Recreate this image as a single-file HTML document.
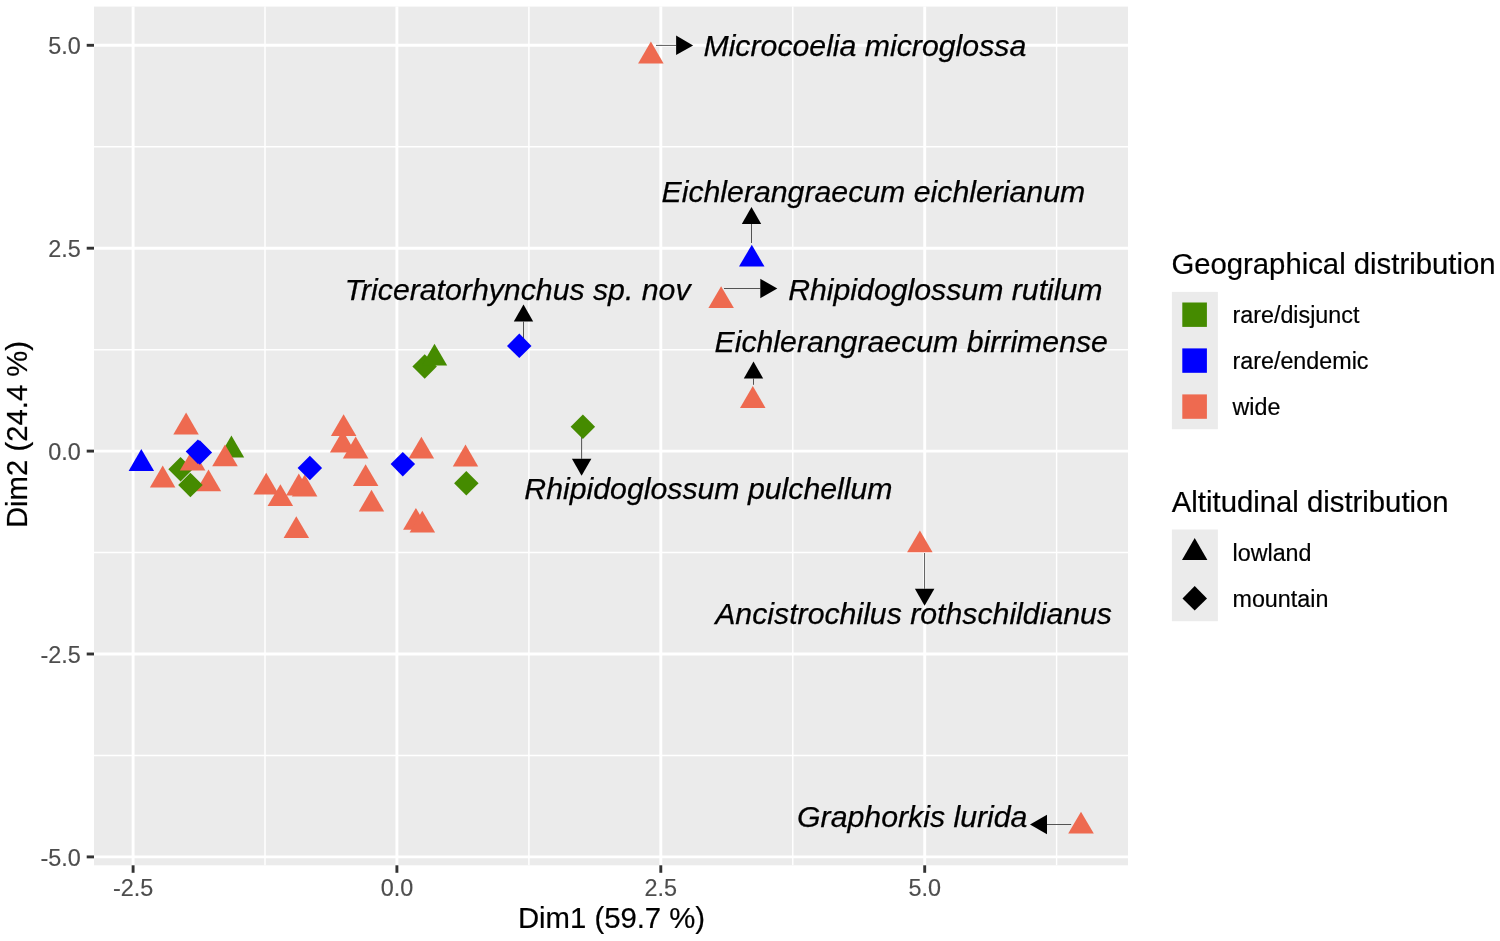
<!DOCTYPE html>
<html lang="en"><head><meta charset="utf-8"><title>PCA biplot</title>
<style>
html,body{margin:0;padding:0;background:#fff;}
body{width:1500px;height:941px;overflow:hidden;}
svg{display:block;}
text{font-family:"Liberation Sans",sans-serif;}
.lab{font-size:30.25px;font-style:italic;fill:#000;stroke:#000;stroke-width:0.25px;}
.tk{font-size:23.4px;fill:#4D4D4D;stroke:#4D4D4D;stroke-width:0.15px;}
.ti{font-size:29.3px;fill:#000;stroke:#000;stroke-width:0.2px;}
.lg{font-size:23.3px;fill:#000;stroke:#000;stroke-width:0.2px;}
</style></head><body>
<svg width="1500" height="941" viewBox="0 0 1500 941">
<rect width="1500" height="941" fill="#fff"/>
<rect x="94.0" y="6.6" width="1034.0" height="858.6999999999999" fill="#EBEBEB"/>
<line x1="265.0" x2="265.0" y1="6.6" y2="865.3" stroke="#fff" stroke-width="1.45"/>
<line x1="528.9" x2="528.9" y1="6.6" y2="865.3" stroke="#fff" stroke-width="1.45"/>
<line x1="792.8" x2="792.8" y1="6.6" y2="865.3" stroke="#fff" stroke-width="1.45"/>
<line x1="1056.6" x2="1056.6" y1="6.6" y2="865.3" stroke="#fff" stroke-width="1.45"/>
<line x1="94.0" x2="1128.0" y1="755.5" y2="755.5" stroke="#fff" stroke-width="1.45"/>
<line x1="94.0" x2="1128.0" y1="552.5" y2="552.5" stroke="#fff" stroke-width="1.45"/>
<line x1="94.0" x2="1128.0" y1="349.7" y2="349.7" stroke="#fff" stroke-width="1.45"/>
<line x1="94.0" x2="1128.0" y1="146.8" y2="146.8" stroke="#fff" stroke-width="1.45"/>
<line x1="133.1" x2="133.1" y1="6.6" y2="865.3" stroke="#fff" stroke-width="2.9"/>
<line x1="133.1" x2="133.1" y1="865.3" y2="872.8" stroke="#333" stroke-width="2.9"/>
<line x1="396.9" x2="396.9" y1="6.6" y2="865.3" stroke="#fff" stroke-width="2.9"/>
<line x1="396.9" x2="396.9" y1="865.3" y2="872.8" stroke="#333" stroke-width="2.9"/>
<line x1="660.8" x2="660.8" y1="6.6" y2="865.3" stroke="#fff" stroke-width="2.9"/>
<line x1="660.8" x2="660.8" y1="865.3" y2="872.8" stroke="#333" stroke-width="2.9"/>
<line x1="924.7" x2="924.7" y1="6.6" y2="865.3" stroke="#fff" stroke-width="2.9"/>
<line x1="924.7" x2="924.7" y1="865.3" y2="872.8" stroke="#333" stroke-width="2.9"/>
<line x1="94.0" x2="1128.0" y1="856.9" y2="856.9" stroke="#fff" stroke-width="2.9"/>
<line x1="86.7" x2="94.0" y1="856.9" y2="856.9" stroke="#333" stroke-width="2.9"/>
<line x1="94.0" x2="1128.0" y1="654.0" y2="654.0" stroke="#fff" stroke-width="2.9"/>
<line x1="86.7" x2="94.0" y1="654.0" y2="654.0" stroke="#333" stroke-width="2.9"/>
<line x1="94.0" x2="1128.0" y1="451.1" y2="451.1" stroke="#fff" stroke-width="2.9"/>
<line x1="86.7" x2="94.0" y1="451.1" y2="451.1" stroke="#333" stroke-width="2.9"/>
<line x1="94.0" x2="1128.0" y1="248.2" y2="248.2" stroke="#fff" stroke-width="2.9"/>
<line x1="86.7" x2="94.0" y1="248.2" y2="248.2" stroke="#333" stroke-width="2.9"/>
<line x1="94.0" x2="1128.0" y1="45.3" y2="45.3" stroke="#fff" stroke-width="2.9"/>
<line x1="86.7" x2="94.0" y1="45.3" y2="45.3" stroke="#333" stroke-width="2.9"/>
<line x1="656.0" y1="45.4" x2="676.1" y2="45.4" stroke="#383838" stroke-width="0.85"/><polygon points="676.1,35.6 693.1,45.4 676.1,55.1" fill="#000"/>
<line x1="751.5" y1="243.0" x2="751.5" y2="224.0" stroke="#383838" stroke-width="0.85"/><polygon points="741.8,224.0 751.5,207.0 761.2,224.0" fill="#000"/>
<line x1="724.0" y1="288.5" x2="760.3" y2="288.5" stroke="#383838" stroke-width="0.85"/><polygon points="760.3,278.8 777.3,288.5 760.3,298.2" fill="#000"/>
<line x1="523.5" y1="340.0" x2="523.5" y2="321.6" stroke="#383838" stroke-width="0.85"/><polygon points="513.8,321.6 523.5,304.6 533.2,321.6" fill="#000"/>
<line x1="753.5" y1="384.8" x2="753.5" y2="378.6" stroke="#383838" stroke-width="0.85"/><polygon points="743.8,378.6 753.5,361.6 763.2,378.6" fill="#000"/>
<line x1="581.6" y1="436.0" x2="581.6" y2="458.8" stroke="#383838" stroke-width="0.85"/><polygon points="571.9,458.8 581.6,475.8 591.4,458.8" fill="#000"/>
<line x1="924.6" y1="553.0" x2="924.6" y2="588.8" stroke="#383838" stroke-width="0.85"/><polygon points="914.9,588.8 924.6,605.8 934.4,588.8" fill="#000"/>
<line x1="1071.2" y1="824.5" x2="1047.0" y2="824.5" stroke="#383838" stroke-width="0.85"/><polygon points="1047.0,814.7 1030.0,824.5 1047.0,834.2" fill="#000"/>
<polygon points="180.6,457.1 192.8,469.3 180.6,481.6 168.3,469.3" fill="#458B00"/>
<polygon points="231.4,435.6 218.7,457.4 244.2,457.4" fill="#458B00"/>
<polygon points="186.1,412.6 173.3,434.4 198.8,434.4" fill="#EE6A50"/>
<polygon points="162.7,465.5 149.9,487.4 175.4,487.4" fill="#EE6A50"/>
<polygon points="192.7,448.8 179.9,470.6 205.4,470.6" fill="#EE6A50"/>
<polygon points="208.5,469.4 195.8,491.2 221.2,491.2" fill="#EE6A50"/>
<polygon points="225.0,444.4 212.2,466.2 237.8,466.2" fill="#EE6A50"/>
<polygon points="266.2,472.7 253.4,494.6 278.9,494.6" fill="#EE6A50"/>
<polygon points="280.4,484.2 267.6,506.1 293.1,506.1" fill="#EE6A50"/>
<polygon points="298.8,473.5 286.1,495.4 311.6,495.4" fill="#EE6A50"/>
<polygon points="304.7,474.5 291.9,496.4 317.4,496.4" fill="#EE6A50"/>
<polygon points="296.3,516.2 283.6,538.0 309.1,538.0" fill="#EE6A50"/>
<polygon points="342.7,430.5 329.9,452.4 355.4,452.4" fill="#EE6A50"/>
<polygon points="343.6,414.3 330.9,436.1 356.4,436.1" fill="#EE6A50"/>
<polygon points="355.7,436.5 342.9,458.4 368.4,458.4" fill="#EE6A50"/>
<polygon points="365.6,464.2 352.9,486.1 378.4,486.1" fill="#EE6A50"/>
<polygon points="371.5,489.8 358.8,511.6 384.2,511.6" fill="#EE6A50"/>
<polygon points="421.4,436.7 408.6,458.6 434.1,458.6" fill="#EE6A50"/>
<polygon points="465.5,444.5 452.8,466.4 478.2,466.4" fill="#EE6A50"/>
<polygon points="415.9,507.9 403.1,529.8 428.6,529.8" fill="#EE6A50"/>
<polygon points="422.3,510.8 409.6,532.6 435.1,532.6" fill="#EE6A50"/>
<polygon points="650.9,41.5 638.1,63.4 663.6,63.4" fill="#EE6A50"/>
<polygon points="721.1,286.3 708.4,308.1 733.9,308.1" fill="#EE6A50"/>
<polygon points="752.8,386.0 740.0,407.9 765.5,407.9" fill="#EE6A50"/>
<polygon points="919.9,530.4 907.1,552.2 932.6,552.2" fill="#EE6A50"/>
<polygon points="1081.0,811.7 1068.2,833.5 1093.8,833.5" fill="#EE6A50"/>
<polygon points="190.4,472.8 202.7,485.0 190.4,497.2 178.2,485.0" fill="#458B00"/>
<polygon points="424.7,354.2 436.9,366.5 424.7,378.8 412.4,366.5" fill="#458B00"/>
<polygon points="434.5,343.7 421.8,365.6 447.2,365.6" fill="#458B00"/>
<polygon points="466.3,470.9 478.6,483.2 466.3,495.4 454.1,483.2" fill="#458B00"/>
<polygon points="582.9,414.4 595.1,426.7 582.9,438.9 570.6,426.7" fill="#458B00"/>
<polygon points="141.3,449.0 128.6,470.9 154.1,470.9" fill="#0000FF"/>
<polygon points="197.9,439.4 210.2,451.6 197.9,463.9 185.7,451.6" fill="#0000FF"/>
<polygon points="199.8,440.2 212.1,452.5 199.8,464.8 187.6,452.5" fill="#0000FF"/>
<polygon points="309.9,455.8 322.1,468.0 309.9,480.2 297.6,468.0" fill="#0000FF"/>
<polygon points="402.8,451.9 415.1,464.1 402.8,476.4 390.6,464.1" fill="#0000FF"/>
<polygon points="519.3,333.6 531.5,345.9 519.3,358.1 507.0,345.9" fill="#0000FF"/>
<polygon points="751.8,244.7 739.0,266.6 764.5,266.6" fill="#0000FF"/>
<text x="703.45" y="56.2" class="lab">Microcoelia microglossa</text>
<text x="661.5" y="202.2" class="lab">Eichlerangraecum eichlerianum</text>
<text x="344.75" y="299.8" class="lab">Triceratorhynchus sp. nov</text>
<text x="788.15" y="299.6" class="lab">Rhipidoglossum rutilum</text>
<text x="714.5" y="352.2" class="lab">Eichlerangraecum birrimense</text>
<text x="524.35" y="499.2" class="lab">Rhipidoglossum pulchellum</text>
<text x="715.2" y="624.3" class="lab">Ancistrochilus rothschildianus</text>
<text x="797.1" y="827.4" class="lab">Graphorkis lurida</text>
<text x="133.1" y="895.8" class="tk" text-anchor="middle">-2.5</text>
<text x="396.9" y="895.8" class="tk" text-anchor="middle">0.0</text>
<text x="660.8" y="895.8" class="tk" text-anchor="middle">2.5</text>
<text x="924.7" y="895.8" class="tk" text-anchor="middle">5.0</text>
<text x="80.8" y="865.6" class="tk" text-anchor="end">-5.0</text>
<text x="80.8" y="662.8" class="tk" text-anchor="end">-2.5</text>
<text x="80.8" y="459.9" class="tk" text-anchor="end">0.0</text>
<text x="80.8" y="257.0" class="tk" text-anchor="end">2.5</text>
<text x="80.8" y="54.1" class="tk" text-anchor="end">5.0</text>
<text x="611.5" y="928.4" class="ti" text-anchor="middle">Dim1 (59.7 %)</text>
<text transform="translate(27.3,434.5) rotate(-90)" class="ti" text-anchor="middle">Dim2 (24.4 %)</text>
<text x="1171.4" y="274.4" class="ti">Geographical distribution</text>
<rect x="1171.9" y="291.9" width="46.0" height="137.3" fill="#EBEBEB"/>
<rect x="1182.3" y="302.5" width="24.6" height="24.4" fill="#458B00"/>
<text x="1232.5" y="323.0" class="lg">rare/disjunct</text>
<rect x="1182.3" y="348.4" width="24.6" height="24.4" fill="#0000FF"/>
<text x="1232.5" y="368.9" class="lg">rare/endemic</text>
<rect x="1182.3" y="394.4" width="24.6" height="24.4" fill="#EE6A50"/>
<text x="1232.5" y="414.9" class="lg">wide</text>
<text x="1171.8" y="511.5" class="ti">Altitudinal distribution</text>
<rect x="1171.9" y="529.5" width="46.0" height="91.7" fill="#EBEBEB"/>
<polygon points="1194.7,537.9 1182.0,560.0 1207.4,560.0" fill="#000"/>
<polygon points="1194.7,586.1 1207.0,598.4 1194.7,610.6 1182.5,598.4" fill="#000"/>
<text x="1232.5" y="560.7" class="lg">lowland</text>
<text x="1232.5" y="606.8" class="lg">mountain</text>
</svg>
</body></html>
